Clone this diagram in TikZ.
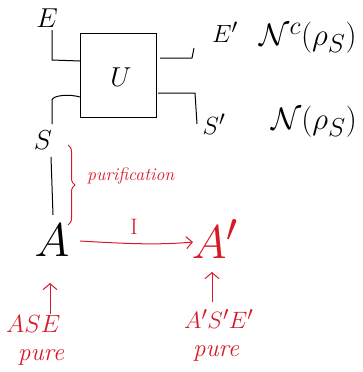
\documentclass[tikz,border=0pt]{standalone}
\usepackage{amsmath}
\usepackage{graphicx}
\usetikzlibrary{decorations.pathreplacing,arrows.meta}
\definecolor{hred}{RGB}{215,25,40}
\newcommand{\Sb}[2]{\scalebox{#1}{#2}}
\tikzset{
  wire/.style={draw=black,line width=1pt},
  lbl/.style={inner sep=0pt,font=\Huge},
  rlbl/.style={inner sep=0pt,text=hred,font=\Huge},
  rline/.style={draw=hred,line width=1pt},
}
\begin{document}
\begin{tikzpicture}[x=1pt,y=-1pt]
\useasboundingbox (0,0) rectangle (363,372);
% box
\node[draw,line width=1pt,minimum width=76pt,minimum height=84pt,inner sep=0pt] (U) at (118,75) {};
\node[lbl] (Ul) at (121,77) {\Sb{1.1}{$U$}};
% labels top
\node[lbl] (E) at (47,18) {\Sb{1.1}{$E$}};
\node[lbl] (Ep) at (225,32) {\Sb{1.0}{$E'$}};
\node[lbl] (Nc) at (308,38) {\Sb{1.25}{$\mathcal{N}^c(\rho_S)$}};
\node[lbl] (Sp) at (214,124) {\Sb{1.0}{$S'$}};
\node[lbl] (N) at (314,122) {\Sb{1.25}{$\mathcal{N}(\rho_S)$}};
\node[lbl] (S) at (43,140) {\Sb{1.1}{$S$}};
\node[lbl] (A) at (52,240) {\Sb{1.9}{$A$}};
\node[rlbl] (Ap) at (215,239) {\Sb{1.9}{$A'$}};
% wires
\draw[wire] (52,30) -- (52,60) -- (80,61);
\draw[wire] (52,124) -- (52,100) .. controls (53,95) and (70,94) .. (80,97);
\draw[wire] (160,58) -- (192,58) -- (194,48);
\draw[wire] (158,93) -- (195,93) -- (197,124);
\draw[wire] (51,157) -- (53,215);
% brace
\draw[rline,decorate,decoration={brace,amplitude=7pt}] (68,145) -- (68,225);
\node[rlbl,anchor=west] (pur) at (87,176) {\Sb{0.72}{\textit{purification}}};
% I arrow
\draw[rline,-{Straight Barb[length=6pt,width=12pt]}] (80,241) .. controls (130,244) and (160,245) .. (193,242);
\node[rlbl] (I) at (134,227) {\Sb{0.9}{$\mathrm{I}$}};
% bottom
\node[rlbl,anchor=west] (ASE) at (6,324) {\Sb{1.0}{$ASE$}};
\node[rlbl,anchor=west] (pure1) at (18,357) {\Sb{1.0}{\textit{pure}}};
\coordinate (a1) at (50,283);
\draw[rline,-{Straight Barb[length=6pt,width=14pt]}] (50,314) -- (a1);
\node[rlbl,anchor=west] (ASEp) at (184,319) {\Sb{0.95}{$A'S'E'$}};
\node[rlbl,anchor=west] (pure2) at (193,353) {\Sb{1.0}{\textit{pure}}};
\coordinate (a2) at (212,272);
\draw[rline,-{Straight Barb[length=6pt,width=14pt]}] (212,302) -- (a2);
\end{tikzpicture}
\end{document}
